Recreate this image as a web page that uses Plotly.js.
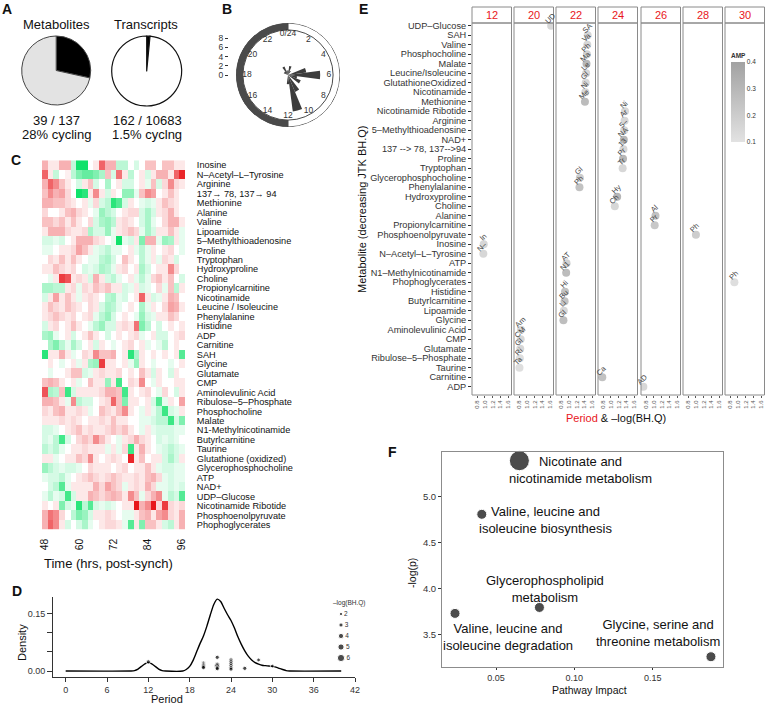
<!DOCTYPE html>
<html><head><meta charset="utf-8">
<script src="https://cdn.plot.ly/plotly-3.0.1.min.js"></script>
<style>html,body{margin:0;padding:0;background:#fff;}#chart{width:766px;height:708px;}</style>
</head><body><div id="chart"></div>
<script>
// ================= DATA =================
// Panel A
const pieLabels = ['cycling', 'non-cycling'];
const metaboliteCounts = [39, 98];
const transcriptCounts = [162, 10521];
const metaboliteText = ['39 / 137', '28% cycling'];
const transcriptText = ['162 / 10683', '1.5% cyclng'];

// Panel B (phase rose)
const phaseHours = [0, 1, 2, 5, 6, 7, 8, 10, 11, 12, 20, 21, 22, 23];
const phaseCounts = [1, 2, 1, 4, 7, 2, 3, 4, 8, 2, 1, 1, 2, 1];
const clockHours = [0, 2, 4, 6, 8, 10, 12, 14, 16, 18, 20, 22];
const clockLabels = ['0/24', '2', '4', '6', '8', '10', '12', '14', '16', '18', '20', '22'];
const radialTicks = [0, 2, 4, 6, 8];

// Panel C (heatmap)
const heatTimes = [48, 50, 52, 54, 56, 58, 60, 62, 64, 66, 68, 70, 72, 74, 76, 78, 80, 82, 84, 86, 88, 90, 92, 94, 96];
const heatTicks = [48, 60, 72, 84, 96];
const heatNames = ['Inosine', 'N–Acetyl–L–Tyrosine', 'Arginine', '137→ 78, 137→ 94', 'Methionine', 'Alanine', 'Valine', 'Lipoamide', '5–Methylthioadenosine', 'Proline', 'Tryptophan', 'Hydroxyproline', 'Choline', 'Propionylcarnitine', 'Nicotinamide', 'Leucine / Isoleucine', 'Phenylalanine', 'Histidine', 'ADP', 'Carnitine', 'SAH', 'Glycine', 'Glutamate', 'CMP', 'Aminolevulinic Acid', 'Ribulose–5–Phosphate', 'Phosphocholine', 'Malate', 'N1-Methylnicotinamide', 'Butyrlcarnitine', 'Taurine', 'Glutathione (oxidized)', 'Glycerophosphocholine', 'ATP', 'NAD+', 'UDP–Glucose', 'Nicotinamide Ribotide', 'Phosphoenolpyruvate', 'Phophoglycerates'];
const heatValues = [
[1,0.3,0.3,1,1,-0.7,-2.8,-2.8,0,0.3,2,1,1,-0.8,-0.8,0,-0.5,0,0.8,0.8,0,0.8,0.8,0.3,0.3],
[2,0.3,-0.7,0,0.2,-0.8,-1.5,-1.8,-1.8,-1.5,-1,0.8,-0.5,1.8,0.3,-0.8,0,0.3,-0.5,0.3,1,1,0.3,2,2.8],
[1,2,1.5,0.8,0.3,0,-0.5,0.3,0.8,-0.5,0,-1,0,0.3,-0.5,-0.5,0,0.3,-0.3,0.8,-0.5,0.5,1.5,0.5,0.3],
[0.8,1.5,1,1.2,0.5,0,-2.8,-2.5,0.3,1.5,0.3,-0.5,0.3,0,-1.3,-1.3,-0.3,0.8,1.5,1.2,0,0.3,0.8,0.3,0],
[1,1,0.8,0.8,0.5,0.3,0,0.3,-0.3,0.5,-0.5,-0.8,-2.5,-2,-0.5,0.3,0,-0.3,-0.5,-0.3,0.3,0.8,0.5,0.3,0],
[0.5,0,0,0.3,0.8,1,0.5,0.3,0,-0.3,-1.2,-0.8,-0.5,0,0.3,0.5,0.5,-0.5,-1,-0.5,0.3,0.5,1,0.3,0],
[0.8,0.8,0.5,0.8,0.3,0.8,0.3,0,0.5,-0.5,-1,-1.2,-0.8,0.3,0.5,0.3,0,-0.5,-1,-0.3,0,0.5,1,1,0.3],
[0.3,1,1,1,0.5,0.3,0.3,0.5,-1,-0.5,-0.5,-1.2,-0.3,0.3,0.5,0.8,0.5,-0.3,-1,-0.5,0.3,0.3,0.8,0.3,-0.3],
[-0.5,-0.5,-0.3,-0.5,0,0.3,1,1,1,0.5,0.3,0,-0.3,-2.8,-0.3,-0.5,0.3,-1.5,1,1,-0.3,-1.2,-1,0.3,-0.3],
[-0.3,-0.3,0,0.3,0.3,0.5,1.2,0.8,0.3,-0.3,-0.5,-0.8,-0.3,-0.3,0,0.3,-0.3,-0.8,-0.3,0.3,0,0.3,0.5,0,-0.3],
[0,0.5,0.3,0.8,0.3,0.8,0.3,0,-0.3,-0.3,-0.8,-1,-0.5,0,0.8,0.3,0,-0.8,-0.3,0.3,-0.3,0.5,0.3,-0.5,0],
[0.3,0.3,0.8,0.5,0.3,0.5,0,-0.5,-0.3,-0.5,-1,-0.8,-0.3,0.3,0.5,0,0.3,-1,-0.5,0,0.3,0.3,1.5,0.5,0],
[0,-0.3,0.3,2.5,2.2,0.3,0.5,0.3,-0.5,1,0.3,-0.5,-0.8,-0.3,0,0.3,-0.3,-0.8,-0.3,0.5,0.8,0.3,0.8,0,-0.5],
[-1,-1,-0.8,-0.8,0.3,0.5,-0.3,0.5,0.3,0.8,0.5,0.8,0.3,0.3,-0.5,-0.3,0.3,-0.5,-0.3,0,0.5,-0.3,0.8,-0.8,0.3],
[-0.5,0.3,1.2,0.3,0.8,0.3,-0.3,0.3,0.5,0.3,0,-0.8,-1,-0.3,-0.5,0,0.3,2,0.3,-0.5,-0.3,0.3,1,0.8,0],
[0.3,0.8,0.5,0.3,0.8,0.5,0.3,0,0.5,0.3,-0.5,-1,-0.8,-0.3,0,0.3,0,-1,-0.3,0.3,0,0.5,1.2,1,0.3],
[0.3,0.5,0.8,0.5,0.3,0.5,0,0.3,0.5,-0.3,-0.8,-1.2,-0.5,0,0.3,0,-0.3,-1.2,-0.5,-0.3,0.3,0.3,0.8,0.5,0],
[-0.5,0.3,0.5,0,0.3,0.8,0.3,0,-0.3,-0.8,-1.2,-0.5,-0.5,0.3,0.5,0.3,1.8,-1.5,-0.8,0,-0.5,0,0.3,0,0.3],
[-1,-1.2,-0.3,0,0.3,-0.5,0,0.3,0.8,0.3,0,-0.5,0,0.3,0,0.3,0.5,-0.3,0,0.3,-0.5,-0.5,0,0.3,0.5],
[0,-1,-1.5,-0.8,-0.3,-1,-0.5,0,0.3,-0.5,0.3,0,-0.3,0,0.3,0.5,0,0.3,-0.3,0,-0.3,-0.8,0,0.3,0],
[-2.5,0.3,0.3,1,0.3,-0.3,0,0.5,0.3,1.5,0.8,0.8,1,0,0.3,-2.5,-1,0.3,0,0.3,0,0.3,0,0.3,-2],
[0,0.3,0,-0.3,0,0.3,-0.3,0.3,-1,-1.2,2.5,0.3,0.3,0,0.3,-0.3,-1.2,0.3,0,-0.3,0,0,-0.3,0,0.3],
[0,-0.3,0,0,0.3,0.8,0.8,-0.5,-0.3,0.3,0.5,0.3,0.3,0.5,0,0.3,0,0.8,0.3,-0.5,0.3,0,-0.5,0.3,0],
[0.8,1,0.8,0.3,0,0.3,-0.3,0,0.8,0.3,0.3,-1.2,0.3,-2.2,0,0.5,0.3,1.5,0,-0.3,0.3,0,0,0.3,0.3],
[2.2,-1,-0.8,0.8,-2.3,-0.5,0.3,0.3,0.3,0.3,0.5,1,1,0.8,-2.2,0.3,0,0.3,0.5,0,-0.3,0.5,0,-0.5,0.3],
[1,1,0.8,0.3,-0.3,1.5,-0.8,-0.5,-0.5,0,0.3,0.5,2,0.8,-1.5,0.3,0.3,0,0.3,-0.5,-2,-0.3,0.3,0,1.2],
[0.5,0.3,0.8,1,0.3,0.3,0.5,0.3,-0.3,0,0.8,0.5,0.3,0.8,1.5,0.3,0,-0.3,0.3,-0.3,-0.8,-2.3,-0.5,-0.3,0.3],
[0.3,0.3,0.3,0.5,0.3,0.5,0.3,0,0.3,0.3,0.5,0.3,0.8,0.3,0.3,0,0,-0.3,-0.3,-0.5,-0.8,-0.8,-2.3,-0.5,-1.5],
[-0.5,-0.5,-0.3,0,0.3,0.5,0.8,0.3,0.5,0.3,0.3,0.5,0.8,0.5,0.8,0.3,0,-0.3,0.3,-0.3,-0.5,-0.5,-0.5,-0.3,-0.3],
[-0.5,-0.3,-0.8,-2.2,-0.5,0,0.5,0.8,0.5,1.5,0.8,0.3,0,-0.3,0.3,0.5,1,0.5,0.3,0,-0.5,-0.3,-0.5,-0.3,0],
[-0.8,-0.5,-0.8,-0.3,0,0.3,0.3,0.5,0.3,0.3,0.3,-0.3,0.3,-0.3,0.5,-2.3,0.3,1,0.3,0,-0.3,-0.5,-0.8,-0.5,-0.3],
[0.3,0.3,-0.3,0,0.3,0.3,0.8,0.5,1.5,0.3,0,0.3,0.5,0.3,0,2.8,0.3,0.8,0,0.3,0.3,-0.5,-1,-0.5,0.3],
[-1.2,-0.8,-0.5,-0.3,-0.5,-0.5,-0.3,0,0.5,0.3,0.3,0.3,0,0.3,0.5,0,0.3,0.3,0.8,0.3,-0.3,-0.5,-0.5,-0.3,-0.3],
[-0.3,-0.5,-0.5,-0.8,-0.3,0,0.3,0.5,0.8,0.5,0.3,0.5,0.8,0.5,0.3,0.3,0.5,0.3,0.8,1,0.5,-0.3,-0.5,-0.3,-0.3],
[0,-0.5,-0.8,-2,-0.3,0.3,0.3,0.3,0.3,1,0.5,1.2,0.8,0.5,-0.3,0.3,0.5,0.3,1,0.5,-0.3,-0.3,-0.5,-0.3,-0.5],
[-0.3,-0.8,-0.3,-0.5,-2.2,-0.5,0.3,0.3,1,0.8,0.5,0.8,1,0.8,0.3,1.5,0.8,-0.3,0.5,1,1.5,-0.3,-0.8,-0.5,-2],
[0.3,0,0.3,-1.5,-0.5,-0.3,-2.5,-0.8,-2,-0.5,-0.3,-0.5,-0.3,0,0.3,0.3,3,1,1.5,3,0.5,2.5,0.5,0.3,0.5],
[1,1.8,1.5,0.5,0,-0.8,-1.5,-1.2,-0.5,0.3,0.3,0.5,0.3,0,-0.3,-0.3,0.3,0.8,1,0.3,1.2,1.5,0.5,0.3,1],
[1,2,1.5,0.3,-0.5,0,-0.5,-1,-0.3,0,0.3,0.5,0.5,0.3,-0.3,-2,0.3,-1.5,0.8,0.8,0.3,-0.5,-0.8,0.3,1]
];

// Panel D
const densityPeriod = [0,9.5,10,10.5,11,11.5,12,12.5,13,13.5,14,14.5,17,17.5,18,18.5,19,19.5,20,20.5,21,21.5,22,22.5,23,23.5,24,24.5,25,25.5,26,26.5,27,27.5,28,28.5,29,29.5,30,30.5,31,31.5,32,32.5,40];
const densityValue = [0,0,0.001,0.005,0.012,0.019,0.022,0.019,0.012,0.005,0.001,0,0,0.004,0.012,0.028,0.05,0.072,0.092,0.118,0.148,0.175,0.189,0.183,0.165,0.148,0.133,0.113,0.09,0.07,0.053,0.039,0.029,0.022,0.018,0.015,0.014,0.013,0.012,0.01,0.007,0.004,0.001,0,0];
const dotPeriod = [12,20,20,20,20,20,22,22,22,22,22,22,24,24,24,24,24,24,26,28,30];
const dotDensity = [0.024,0.021,0.018,0.015,0.012,0.009,0.036,0.018,0.015,0.012,0.009,0.006,0.029,0.024,0.019,0.014,0.009,0.005,0.007,0.029,0.013];
const dotNegLogQ = [3,3,3,3,3,3,3,3,4,4,3,3,3,3,3,3,3,3,3,2.5,2.5];
const sizeLegendValues = [2, 3, 4, 5, 6];
const periodTicks = [0, 6, 12, 18, 24, 30, 36, 42];

// Panel E
const facetPeriods = [12, 20, 22, 24, 26, 28, 30];
const eNames = ['UDP–Glucose','SAH','Valine','Phosphocholine','Malate','Leucine/Isoleucine','GlutathioneOxidized','Nicotinamide','Methionine','Nicotinamide Ribotide','Arginine','5–Methylthioadenosine','NAD+','137 --> 78, 137-->94','Proline','Tryptophan','Glycerophosphocholine','Phenylalanine','Hydroxyproline','Choline','Alanine','Propionylcarnitine','Phosphoenolpyruvate','Inosine','N–Acetyl–L–Tyrosine','ATP','N1–Methylnicotinamide','Phophoglycerates','Histidine','Butyrlcarnitine','Lipoamide','Glycine','Aminolevulinic Acid','CMP','Glutamate','Ribulose–5–Phosphate','Taurine','Carnitine','ADP'];
const ePeriod = [20,22,22,22,22,22,22,22,22,24,24,24,24,24,24,24,22,22,24,24,26,26,28,12,12,22,22,30,22,22,22,22,20,20,20,20,20,24,26];
const eNegLogQ = [1.62,1.48,1.47,1.46,1.45,1.44,1.43,1.42,1.41,1.36,1.35,1.34,1.33,1.32,1.31,1.30,1.28,1.27,1.16,1.10,1.04,1.02,1.00,0.97,0.96,0.94,0.93,0.91,0.90,0.89,0.87,0.86,0.85,0.84,0.83,0.82,0.81,0.78,0.73];
const eAmp = [0.15,0.15,0.15,0.18,0.3,0.15,0.15,0.15,0.28,0.15,0.15,0.15,0.3,0.15,0.3,0.15,0.2,0.25,0.3,0.15,0.25,0.22,0.2,0.15,0.15,0.18,0.28,0.12,0.25,0.25,0.15,0.27,0.15,0.15,0.15,0.12,0.12,0.25,0.15];
const eXTicks = [0.8, 1.0, 1.2, 1.4, 1.6];
const ampTicks = [0.1, 0.2, 0.3, 0.4];

// Panel F
const pathwayNames = ['Nicotinate and\nnicotinamide metabolism', 'Valine, leucine and\nisoleucine biosynthesis', 'Glycerophospholipid\nmetabolism', 'Valine, leucine and\nisoleucine degradation', 'Glycine, serine and\nthreonine metabolism'];
const pathwayImpact = [0.0649, 0.0409, 0.0777, 0.0238, 0.1872];
const pathwayNegLogP = [5.392, 4.808, 3.793, 3.728, 3.256];
const pathwayHits = [4, 2, 2, 2, 2];

// ================= LAYOUT HELPERS =================
const W = 766, H = 708;
const px = x => x / W;
const py = y => 1 - y / H;
const FONT = 'Liberation Sans, Arial, Helvetica, sans-serif';
const RED = '#e8161b';

const traces = [];
const annotations = [];
const shapes = [];
function note(text, x, y, size, opts) {
  annotations.push(Object.assign({text: text, x: px(x), y: py(y), xref: 'paper', yref: 'paper',
    showarrow: false, xanchor: 'center', yanchor: 'middle', font: {size: size, color: '#111', family: FONT}}, opts || {}));
}

// ----- Panel A -----
traces.push({type: 'pie', values: metaboliteCounts, labels: pieLabels, sort: false, direction: 'clockwise', rotation: 0,
  textinfo: 'none', hoverinfo: 'skip', marker: {colors: ['#000000', '#e3e3e3'], line: {color: '#444', width: 1}},
  domain: {x: [px(21.7), px(90.7)], y: [py(105), py(36)]}});
traces.push({type: 'pie', values: transcriptCounts, labels: pieLabels, sort: false, direction: 'clockwise', rotation: 0,
  textinfo: 'none', hoverinfo: 'skip', marker: {colors: ['#000000', '#ffffff'], line: {color: '#111', width: 1.2}},
  domain: {x: [px(111.7), px(181.7)], y: [py(106), py(36)]}});
note('Metabolites', 56, 25, 13);
note('Transcripts', 146, 25, 13);
note(metaboliteText[0], 56, 120, 13);
note(metaboliteText[1], 56, 135, 13);
note(transcriptText[0], 147, 120, 13);
note(transcriptText[1], 147, 135, 13);

// ----- Panel B -----
traces.push({type: 'barpolar', subplot: 'polar', r: [1.5, 1.5], base: [9.8, 9.8], theta: [270, 90], width: [180, 180],
  marker: {color: ['#4a4a4a', '#ffffff'], line: {color: '#4a4a4a', width: 1}}, hoverinfo: 'skip'});
traces.push({type: 'barpolar', subplot: 'polar', r: phaseCounts, theta: phaseHours.map(h => h * 15), width: 15,
  marker: {color: '#3c3c3c', line: {width: 0}}, hoverinfo: 'skip'});
traces.push({type: 'scatterpolar', subplot: 'polar', mode: 'text', r: clockHours.map(() => 8.9),
  theta: clockHours.map(h => h * 15), text: clockLabels, textfont: {size: 8.5, color: '#333', family: FONT}, cliponaxis: false, hoverinfo: 'skip'});
// radial scale shown as a separate axis to the left
traces.push({type: 'scatter', x: [0.5], y: [0], xaxis: 'x', yaxis: 'y', mode: 'markers', marker: {opacity: 0}, hoverinfo: 'skip'});

// ----- Panel C -----
traces.push({type: 'heatmap', x: heatTimes, y: heatNames, z: heatValues, xaxis: 'x2', yaxis: 'y2', zmin: -3, zmax: 3,
  colorscale: [[0, '#00e060'], [0.5, '#ffffff'], [1, '#e8161b']], showscale: false, hoverinfo: 'skip'});
note('Time (hrs, post-synch)', 108, 563, 13);

// ----- Panel D -----
traces.push({type: 'scatter', x: densityPeriod, y: densityValue, xaxis: 'x3', yaxis: 'y3', mode: 'lines',
  line: {color: '#000', width: 1.4, shape: 'spline', smoothing: 0.6}, hoverinfo: 'skip'});
traces.push({type: 'scatter', x: dotPeriod, y: dotDensity, xaxis: 'x3', yaxis: 'y3', mode: 'markers',
  marker: {color: '#000', size: dotNegLogQ.map(v => v + 1.2)}, hoverinfo: 'skip'});
traces.push({type: 'scatter', x: sizeLegendValues.map(() => 0.5), y: sizeLegendValues, xaxis: 'x4', yaxis: 'y4',
  mode: 'markers+text', text: sizeLegendValues.map(String), textposition: 'middle right',
  textfont: {size: 6.5, color: '#333', family: FONT}, marker: {color: '#000', size: sizeLegendValues.map(v => v + 1.2)}, cliponaxis: false, hoverinfo: 'skip'});
note('Density', 22, 643, 11, {textangle: -90});
note('Period', 167, 699, 11);
note('–log(BH.Q)', 349, 603, 6.5, {font: {size: 6.5, color: '#333', family: FONT}});

// ----- Panel E -----
const facetLefts = [472, 514, 556, 598, 641, 683, 725];
const facetW = 39.5;
facetPeriods.forEach((p, k) => {
  const idx = [];
  ePeriod.forEach((q, i) => { if (q === p) idx.push(i); });
  const ax = 'x' + (5 + k);
  const tr = {type: 'scatter', mode: 'markers', xaxis: ax, yaxis: 'y5',
    x: idx.map(i => eNegLogQ[i]), y: idx.map(i => eNames[i]),
    marker: {size: 8, color: idx.map(i => eAmp[i]), colorscale: [[0, '#e2e2e2'], [1, '#a2a2a2']], cmin: 0.1, cmax: 0.4,
      showscale: k === 0, line: {width: 0}}, hoverinfo: 'skip'};
  if (k === 0) {
    tr.marker.colorbar = {x: px(731), xanchor: 'left', y: py(96), yanchor: 'middle', len: 92 / H, lenmode: 'fraction',
      thickness: 14, outlinewidth: 0, tickvals: ampTicks, ticks: '', tickfont: {size: 6.5, color: '#333', family: FONT},
      title: {text: '<b>AMP</b>', side: 'top', font: {size: 6.5, color: '#333', family: FONT}}, xpad: 0, ypad: 0};
  }
  traces.push(tr);
  idx.forEach(i => {
    annotations.push({text: eNames[i].slice(0, 2), x: eNegLogQ[i], y: eNames[i], xref: ax, yref: 'y5', showarrow: false,
      textangle: -45, xshift: -1, yshift: 7, font: {size: 7.5, color: '#444', family: FONT}});
  });
  // strip + panel border
  shapes.push({type: 'rect', xref: 'paper', yref: 'paper', x0: px(facetLefts[k]), x1: px(facetLefts[k] + facetW),
    y0: py(23), y1: py(7), fillcolor: '#ffffff', line: {color: '#8a8a8a', width: 1}});
  shapes.push({type: 'rect', xref: 'paper', yref: 'paper', x0: px(facetLefts[k]), x1: px(facetLefts[k] + facetW),
    y0: py(395), y1: py(23), fillcolor: 'rgba(0,0,0,0)', line: {color: '#8a8a8a', width: 1}, layer: 'above'});
  note(String(p), facetLefts[k] + facetW / 2, 15.5, 11, {font: {size: 11, color: RED, family: FONT}});
});
note('Metabolite (decreasing JTK BH.Q)', 362, 209, 11, {textangle: -90});
note('<span style="color:' + RED + '">Period</span> & –log(BH.Q)', 616, 418, 11);

// ----- Panel F -----
traces.push({type: 'scatter', mode: 'markers', xaxis: 'x12', yaxis: 'y12', x: pathwayImpact, y: pathwayNegLogP,
  marker: {color: '#000', size: pathwayHits.map(h => h * 5)}, cliponaxis: false, hoverinfo: 'skip'});
const fLabelShift = [[61, -9], [64, -6], [6, 18], [53, -24], [-53, 24]];
pathwayNames.forEach((n, i) => {
  annotations.push({text: n.replace('\n', '<br>'), x: pathwayImpact[i], y: pathwayNegLogP[i], xref: 'x12', yref: 'y12',
    showarrow: false, xshift: fLabelShift[i][0], yshift: fLabelShift[i][1], font: {size: 13, color: '#111', family: FONT}});
});
note('-log(p)', 412, 573, 10.5, {textangle: -90});
note('Pathway Impact', 589, 690, 10.5);

// Panel letters
[['A', 7, 8.5], ['B', 227, 8.5], ['C', 16, 160], ['D', 17, 591], ['E', 363, 9], ['F', 392, 452]].forEach(l => {
  note('<b>' + l[0] + '</b>', l[1], l[2], 14);
});

// ================= LAYOUT =================
const layout = {
  width: W, height: H, margin: {l: 0, r: 0, t: 0, b: 0}, paper_bgcolor: '#ffffff', plot_bgcolor: 'rgba(0,0,0,0)',
  showlegend: false, hovermode: false, font: {family: FONT, color: '#111'},
  polar: {domain: {x: [px(236), px(340)], y: [py(127), py(23)]}, bgcolor: 'rgba(0,0,0,0)',
    radialaxis: {visible: false, range: [0, 11.3]},
    angularaxis: {visible: false, rotation: 90, direction: 'clockwise'}},
  xaxis: {domain: [px(229), px(230)], anchor: 'y', visible: false, range: [0, 1]},
  yaxis: {domain: [py(75), py(23)], anchor: 'x', range: [0, 11.3], tickvals: radialTicks, ticks: 'outside', ticklen: 3,
    tickcolor: '#333', showline: false, showgrid: false, zeroline: false, tickfont: {size: 8.5, color: '#333'}},
  xaxis2: {domain: [px(42), px(185)], anchor: 'y2', range: [47, 97], tickvals: heatTicks, tickangle: -90, ticks: 'outside',
    ticklen: 4, tickcolor: 'rgba(0,0,0,0)', showgrid: false, zeroline: false, showline: false, tickfont: {size: 10.3, color: '#111'}},
  yaxis2: {domain: [py(529.7), py(160.3)], anchor: 'x2', side: 'right', type: 'category', autorange: 'reversed',
    tickmode: 'array', tickvals: heatNames, ticktext: heatNames,
    ticks: 'outside', ticklen: 9, tickcolor: 'rgba(0,0,0,0)', showgrid: false, zeroline: false, tickfont: {size: 9.2, color: '#111'}},
  xaxis3: {domain: [px(53), px(355)], anchor: 'y3', range: [-1.84, 42], tickvals: periodTicks, ticks: 'outside', ticklen: 4,
    tickcolor: '#333', showline: true, linecolor: '#333', linewidth: 1, showgrid: false, zeroline: false, tickfont: {size: 9, color: '#333'}},
  yaxis3: {domain: [py(677), py(597)], anchor: 'x3', range: [-0.0158, 0.1947], tickvals: [0, 0.05, 0.1, 0.15],
    ticktext: ['0.00', '', '', '0.15'], ticks: 'outside', ticklen: 5, tickcolor: '#333', showline: true, linecolor: '#333',
    linewidth: 1, showgrid: false, zeroline: false, tickfont: {size: 9, color: '#333'}},
  xaxis4: {domain: [px(336), px(346)], anchor: 'y4', range: [0, 1], visible: false},
  yaxis4: {domain: [py(663.5), py(608.5)], anchor: 'x4', range: [6.5, 1.5], visible: false},
  yaxis5: {domain: [py(395), py(23)], anchor: 'x5', type: 'category', categoryorder: 'array', categoryarray: eNames,
    tickmode: 'array', tickvals: eNames, ticktext: eNames,
    range: [38.87, -0.28], ticks: 'outside', ticklen: 3, tickcolor: '#333', showgrid: false, zeroline: false, showline: false,
    tickfont: {size: 9.2, color: '#333'}},
  xaxis12: {domain: [px(442), px(723)], anchor: 'y12', range: [0.0155, 0.1949], tickvals: [0.05, 0.1, 0.15],
    ticktext: ['0.05', '0.10', '0.15'], ticks: 'outside', ticklen: 2, tickcolor: '#333', showline: true, mirror: true,
    linecolor: '#8c8c8c', showgrid: false, zeroline: false, tickfont: {size: 9, color: '#333'}},
  yaxis12: {domain: [py(667), py(452)], anchor: 'x12', range: [3.144, 5.487], tickvals: [3.5, 4, 4.5, 5],
    ticktext: ['3.5', '4.0', '4.5', '5.0'], ticks: 'outside', ticklen: 3, tickcolor: '#333', showline: true, mirror: true,
    linecolor: '#8c8c8c', showgrid: false, zeroline: false, tickfont: {size: 9.5, color: '#333'}},
  annotations: annotations, shapes: shapes
};
facetLefts.forEach((l, k) => {
  layout['xaxis' + (5 + k)] = {domain: [px(l), px(l + facetW)], anchor: 'y5', range: [0.67, 1.68], tickvals: eXTicks,
    ticktext: eXTicks.map(v => v.toFixed(1)), tickangle: -90, ticks: 'outside', ticklen: 2, tickcolor: '#555',
    showgrid: false, zeroline: false, showline: false, tickfont: {size: 6, color: '#555'}};
});

Plotly.newPlot('chart', traces, layout, {staticPlot: true, displayModeBar: false});
</script></body></html>
